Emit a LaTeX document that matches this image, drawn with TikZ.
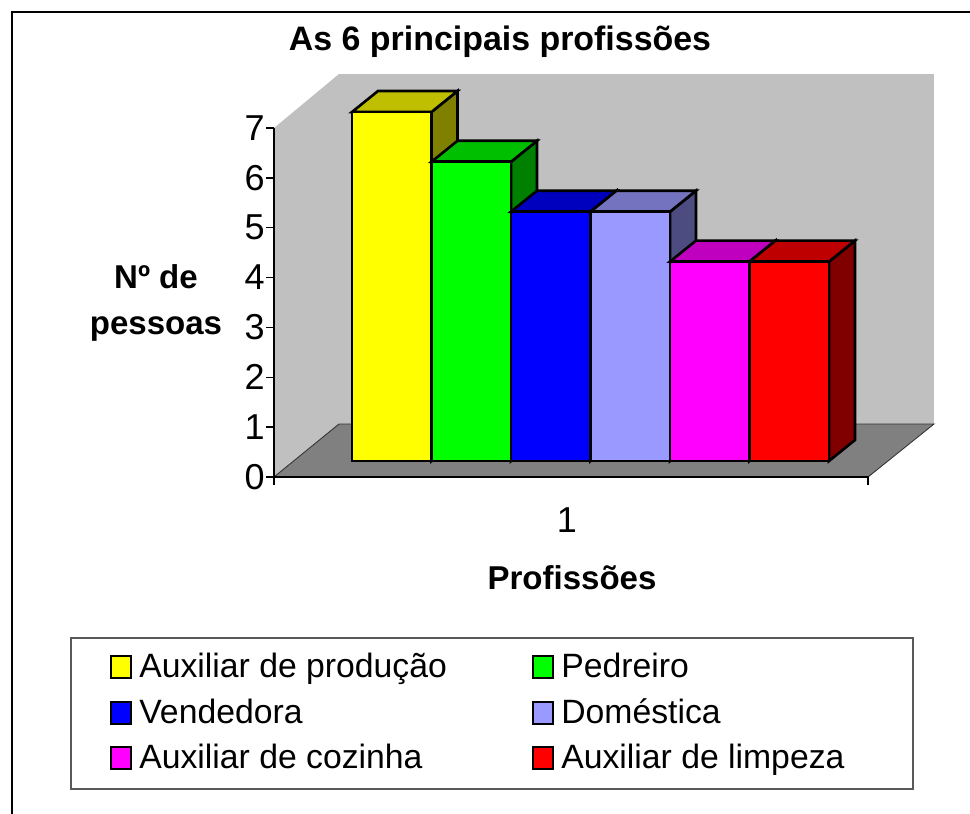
\documentclass[tikz,border=0pt]{standalone}
\usepackage{fontspec}
\setmainfont{Liberation Sans}
\usepackage{xcolor}

\definecolor{wallgray}{HTML}{C0C0C0}
\definecolor{floorgray}{HTML}{808080}
\definecolor{baryellow}{HTML}{FFFF00}
\definecolor{bargreen}{HTML}{00FF00}
\definecolor{barblue}{HTML}{0000FF}
\definecolor{barlavender}{HTML}{9999FF}
\definecolor{barmagenta}{HTML}{FF00FF}
\definecolor{barred}{HTML}{FF0000}

\begin{document}
\begin{tikzpicture}[x=0.02cm,y=-0.02cm,
        face/.style={draw=black,line width=1.5pt,line join=miter},
        ticklabel/.style={anchor=east,inner sep=0pt,font=\fontsize{20.5}{24}\selectfont},
        axistitle/.style={inner sep=0pt,font=\fontsize{18.8}{22}\selectfont\bfseries},
        keybox/.style={draw=black,line width=1.1pt},
        keytext/.style={anchor=base west,inner sep=0pt,font=\fontsize{19.2}{22}\selectfont}]
        \useasboundingbox (0,0) rectangle (970,814);
        % frame
        \draw [line width=1.7pt] (12,830) -- (12,12) -- (985,12);
        \node (title) at (500,42) [inner sep=0pt,font=\fontsize{19.3}{23}\selectfont\bfseries] {As 6 principais profissões};
        % walls and floor
        \fill [wallgray] (339,74) rectangle (934,424);
        \fill [wallgray] (274,477) -- (274,128) -- (339,74) -- (339,424) -- cycle;
        \filldraw [fill=floorgray,draw=black!80,line width=0.5pt] (274,477) -- (339,424) -- (934,424) -- (868,477) -- cycle;
        % axes
        \draw [black,line width=0.8pt] (274,128) -- (274,485);
        \draw [black,line width=0.8pt] (274,477) -- (868,477) -- (868,485);
        \draw [black,line width=0.8pt] (266,477) -- (274,477);
        \draw [black,line width=0.8pt] (266,427.1) -- (274,427.1);
        \draw [black,line width=0.8pt] (266,377.3) -- (274,377.3);
        \draw [black,line width=0.8pt] (266,327.4) -- (274,327.4);
        \draw [black,line width=0.8pt] (266,277.6) -- (274,277.6);
        \draw [black,line width=0.8pt] (266,227.7) -- (274,227.7);
        \draw [black,line width=0.8pt] (266,177.8) -- (274,177.8);
        \draw [black,line width=0.8pt] (266,128) -- (274,128);
        \node (y0) at (265,477) [ticklabel] {0};
        \node (y1) at (265,427.1) [ticklabel] {1};
        \node (y2) at (265,377.3) [ticklabel] {2};
        \node (y3) at (265,327.4) [ticklabel] {3};
        \node (y4) at (265,277.6) [ticklabel] {4};
        \node (y5) at (265,227.7) [ticklabel] {5};
        \node (y6) at (265,177.8) [ticklabel] {6};
        \node (y7) at (265,128) [ticklabel] {7};
        \node (ytitle) at (156,303) [axistitle,align=center] {Nº de\\[4pt]pessoas};
        \node (x1) at (567,520) [inner sep=0pt,font=\fontsize{20.5}{24}\selectfont] {1};
        \node (xtitle) at (572,578) [axistitle] {Profissões};
        % bars
        \draw [face,fill=baryellow!50!black] (431.5,112) -- ++(26,-21) -- ++(0,349) -- ++(-26,21) -- cycle;
        \draw [face,fill=baryellow!75!black] (352,112) -- ++(26,-21) -- ++(79.5,0) -- ++(-26,21) -- cycle;
        \draw [face,fill=baryellow] (352,461) rectangle (431.5,112);
        \draw [face,fill=bargreen!50!black] (511,161.8) -- ++(26,-21) -- ++(0,299.2) -- ++(-26,21) -- cycle;
        \draw [face,fill=bargreen!75!black] (431.5,161.8) -- ++(26,-21) -- ++(79.5,0) -- ++(-26,21) -- cycle;
        \draw [face,fill=bargreen] (431.5,461) rectangle (511,161.8);
        \draw [face,fill=barblue!50!black] (590.5,211.7) -- ++(26,-21) -- ++(0,249.3) -- ++(-26,21) -- cycle;
        \draw [face,fill=barblue!75!black] (511,211.7) -- ++(26,-21) -- ++(79.5,0) -- ++(-26,21) -- cycle;
        \draw [face,fill=barblue] (511,461) rectangle (590.5,211.7);
        \draw [face,fill=barlavender!50!black] (670,211.7) -- ++(26,-21) -- ++(0,249.3) -- ++(-26,21) -- cycle;
        \draw [face,fill=barlavender!75!black] (590.5,211.7) -- ++(26,-21) -- ++(79.5,0) -- ++(-26,21) -- cycle;
        \draw [face,fill=barlavender] (590.5,461) rectangle (670,211.7);
        \draw [face,fill=barmagenta!50!black] (749.5,261.6) -- ++(26,-21) -- ++(0,199.4) -- ++(-26,21) -- cycle;
        \draw [face,fill=barmagenta!75!black] (670,261.6) -- ++(26,-21) -- ++(79.5,0) -- ++(-26,21) -- cycle;
        \draw [face,fill=barmagenta] (670,461) rectangle (749.5,261.6);
        \draw [face,fill=barred!50!black] (829,261.6) -- ++(26,-21) -- ++(0,199.4) -- ++(-26,21) -- cycle;
        \draw [face,fill=barred!75!black] (749.5,261.6) -- ++(26,-21) -- ++(79.5,0) -- ++(-26,21) -- cycle;
        \draw [face,fill=barred] (749.5,461) rectangle (829,261.6);
        % legend
        \draw [black!65,line width=1.2pt] (71,638) rectangle (913,789);
        \draw [keybox,fill=baryellow] (111,656) rectangle (131,678);
        \draw [keybox,fill=bargreen] (533,656) rectangle (553,678);
        \draw [keybox,fill=barblue] (111,702) rectangle (131,724);
        \draw [keybox,fill=barlavender] (533,702) rectangle (553,724);
        \draw [keybox,fill=barmagenta] (111,747) rectangle (131,769);
        \draw [keybox,fill=barred] (533,747) rectangle (553,769);
        \node (kprod) at (139,677) [keytext] {Auxiliar de produção};
        \node (kpedr) at (561,677) [keytext] {Pedreiro};
        \node (kvend) at (139,723) [keytext] {Vendedora};
        \node (kdome) at (561,723) [keytext] {Doméstica};
        \node (kcoz) at (139,768) [keytext] {Auxiliar de cozinha};
        \node (klimp) at (561,768) [keytext] {Auxiliar de limpeza};
    \end{tikzpicture}
\end{document}
